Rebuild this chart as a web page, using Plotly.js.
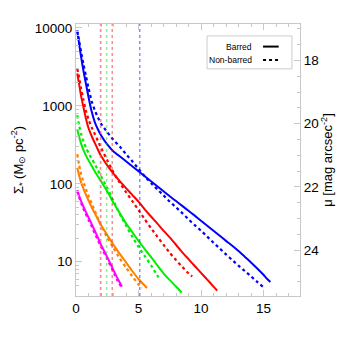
<!DOCTYPE html>
<html>
<head>
<meta charset="utf-8">
<script src="https://cdn.plot.ly/plotly-3.0.1.min.js"></script>
<style>html,body{margin:0;padding:0;background:#fff}#chart{width:346px;height:346px}</style>
</head>
<body>
<div id="chart"></div>
<script>
// Radius (kpc) and stellar surface density (Msun/pc^2) for each mass bin
var blueBarR   = [0.1,0.25,0.4,0.6,0.8,1.0,1.25,1.5,1.75,2.0,2.5,3.0,3.5,4.0,4.5,5.0,5.5,6.0,6.5,7.0,7.5,8.0,8.5,9.0,9.5,10.0,10.5,11.0,11.5,12.0,12.5,13.0,13.5,14.0,14.5,15.0,15.3,15.55];
var blueBarS   = [9100,6300,4300,2800,1900,1300,850,620,500,420,320,260,225,195,168,145,125,108,93,80,69,60,52,45,39,33.5,29,25,21.5,18.5,16,13.7,11.6,9.8,8.2,6.8,6.0,5.5];
var blueNonR   = [0.1,0.25,0.4,0.6,0.8,1.0,1.25,1.5,1.75,2.0,2.5,3.0,3.5,4.0,4.5,5.0,5.5,6.0,6.5,7.0,7.5,8.0,8.5,9.0,9.5,10.0,10.5,11.0,11.5,12.0,12.5,13.0,13.5,14.0,14.5,15.0];
var blueNonS   = [9300,6800,5000,3400,2400,1700,1150,880,710,590,460,365,300,240,195,155,125,102,85,71,59,50,42,35,29.5,25,21,17.5,14.8,12.4,10.5,8.9,7.6,6.5,5.5,4.7];

var redBarR    = [0.1,0.25,0.4,0.6,0.8,1.0,1.25,1.5,1.75,2.0,2.5,3.0,3.5,4.0,4.5,5.0,5.5,6.0,6.5,7.0,7.5,8.0,8.5,9.0,9.5,10.0,10.5,11.0,11.3];
var redBarS    = [2600,1900,1350,950,680,520,410,335,275,228,172,135,108,88,72,59,47,38,31,25,20.5,16.5,13.2,10.8,8.8,7.2,5.9,4.8,4.25];
var redNonR    = [0.1,0.25,0.4,0.6,0.8,1.0,1.25,1.5,1.75,2.0,2.5,3.0,3.5,4.0,4.5,5.0,5.5,6.0,6.5,7.0,7.5,8.0,8.5,9.0,9.3];
var redNonS    = [3000,2300,1700,1180,860,670,530,435,355,290,200,140,103,78,60,46,35,27,21,16.5,13,10.5,8.6,7.1,6.5];

var greenBarR  = [0.1,0.25,0.4,0.6,0.8,1.0,1.25,1.5,1.75,2.0,2.5,3.0,3.5,4.0,4.5,5.0,5.5,6.0,6.5,7.0,7.5,8.0,8.45];
var greenBarS  = [500,400,330,270,230,200,170,145,125,108,80,57,42,31,24,18.5,14.5,11.5,9.0,7.1,5.8,4.8,4.0];
var greenNonR  = [0.1,0.25,0.4,0.6,0.8,1.0,1.25,1.5,1.75,2.0,2.5,3.0,3.5,4.0,4.5,5.0,5.5,6.0,6.6];
var greenNonS  = [760,560,440,350,290,250,210,180,150,125,88,60,41,29,21,15.5,11.8,9.0,6.3];

var orangeBarR = [0.1,0.25,0.4,0.6,0.8,1.0,1.25,1.5,1.75,2.0,2.5,3.0,3.5,4.0,4.5,5.0,5.68];
var orangeBarS = [160,128,105,86,72,61,50,42,35,29.5,22,16.5,12.6,9.8,7.6,6.0,4.6];
var orangeNonR = [0.1,0.25,0.4,0.6,0.8,1.0,1.25,1.5,1.75,2.0,2.5,3.0,3.5,4.0,4.5,5.0,5.25];
var orangeNonS = [240,175,135,105,85,70,56,45,36,29,20.5,15,11,8.4,6.5,5.1,4.6];

var magBarR    = [0.1,0.25,0.5,0.75,1.0,1.25,1.5,1.75,2.0,2.35,2.75,3.0,3.3,3.68];
var magBarS    = [83,70,55,45,37,30.5,25,20.5,16.5,12.8,9.5,7.8,6.2,4.8];
var magNonR    = [0.1,0.25,0.5,0.75,1.0,1.25,1.5,1.75,2.0,2.5,3.0,3.3,3.6];
var magNonS    = [80,67,52,42,34.5,28.5,23,19,15.5,10.8,7.4,5.8,4.8];

// Bar lengths (kpc) per mass bin
var barLen      = [1.96, 1.99, 2.45, 2.9, 5.1];
var barLenColor = ['rgba(255,0,255,0.45)','rgba(255,128,0,0.45)','rgba(0,220,0,0.45)','rgba(255,0,0,0.45)','rgba(0,0,255,0.45)'];

var xTickVals = [0,5,10,15];
var yTickVals = [10,100,1000,10000];
var yMinorVals = [5,6,7,8,9,20,30,40,50,60,70,80,90,200,300,400,500,600,700,800,900,2000,3000,4000,5000,6000,7000,8000,9000];
var muTickVals = [18,20,22,24];

var series = [
  [blueBarR, blueBarS, blueNonR, blueNonS, '#0000ff'],
  [redBarR, redBarS, redNonR, redNonS, '#ff0000'],
  [greenBarR, greenBarS, greenNonR, greenNonS, '#00ee00'],
  [orangeBarR, orangeBarS, orangeNonR, orangeNonS, '#ff8000'],
  [magBarR, magBarS, magNonR, magNonS, '#ff00ff']
];

var traces = [];
series.forEach(function(s){
  traces.push({x:s[0], y:s[1], type:'scatter', mode:'lines', line:{color:s[4], width:2, shape:'spline', smoothing:0.5}, showlegend:false, hoverinfo:'skip'});
  traces.push({x:s[2], y:s[3], type:'scatter', mode:'lines', line:{color:s[4], width:2.2, dash:'dot', shape:'spline', smoothing:0.5}, showlegend:false, hoverinfo:'skip'});
});
traces.push({x:[], y:[], type:'scatter', yaxis:'y2', showlegend:false});

var shapes = barLen.map(function(v,i){
  return {type:'line', xref:'x', yref:'paper', x0:v, x1:v, y0:0, y1:1, line:{color:barLenColor[i], width:1.5, dash:'dot'}};
});
// legend box and samples
shapes.push({type:'rect', xref:'paper', yref:'paper', x0:0.585, x1:0.964, y0:0.835, y1:0.956, line:{color:'#cccccc', width:1}, fillcolor:'rgba(0,0,0,0)'});
shapes.push({type:'line', xref:'paper', yref:'paper', x0:0.835, x1:0.905, y0:0.917, y1:0.917, line:{color:'#000', width:2}});
shapes.push({type:'line', xref:'paper', yref:'paper', x0:0.835, x1:0.905, y0:0.868, y1:0.868, line:{color:'#000', width:2, dash:'dot'}});

var axisCol = '#c8c8c8';
var font = {family:'"Liberation Sans", Arial, sans-serif', size:13.5, color:'#000'};

var layout = {
  width:346, height:346,
  margin:{l:76, r:46, t:24, b:50},
  paper_bgcolor:'#fff', plot_bgcolor:'#fff',
  font:font,
  showlegend:false,
  xaxis:{range:[0,17.92], tickvals:xTickVals, ticks:'inside', ticklen:6, tickcolor:axisCol, showline:true, linecolor:axisCol, linewidth:1, mirror:'ticks', showgrid:false, zeroline:false,
         minor:{dtick:1, ticks:'inside', ticklen:3, tickcolor:axisCol}, tickfont:{size:13.5}},
  yaxis:{type:'log', range:[0.56,4.05], tickvals:yTickVals, ticktext:['10','100','1000','10000'], ticks:'inside', ticklen:6, tickcolor:axisCol, showline:true, linecolor:axisCol, linewidth:1, showgrid:false, zeroline:false,
         minor:{tickvals:yMinorVals, ticks:'inside', ticklen:3, tickcolor:axisCol},
         title:{text:'Σ<sub>*</sub> (M<sub>⊙</sub> pc<sup>-2</sup>)', font:{size:13}, standoff:8}},
  yaxis2:{overlaying:'y', side:'right', range:[25.45,16.85], tickvals:muTickVals, ticks:'inside', ticklen:6, tickcolor:axisCol, showline:true, linecolor:axisCol, linewidth:1, showgrid:false, zeroline:false,
          minor:{dtick:0.5, ticks:'inside', ticklen:3, tickcolor:axisCol},
          title:{text:'μ [mag arcsec<sup>-2</sup>]', font:{size:13}, standoff:4}},
  shapes:shapes,
  annotations:[
    {xref:'paper', yref:'paper', x:0.795, y:0.917, xanchor:'right', yanchor:'middle', text:'Barred', showarrow:false, font:{size:8.5, color:'#000'}},
    {xref:'paper', yref:'paper', x:0.795, y:0.868, xanchor:'right', yanchor:'middle', text:'Non-barred', showarrow:false, font:{size:8.5, color:'#000'}}
  ]
};

Plotly.newPlot('chart', traces, layout, {staticPlot:true, displayModeBar:false});
</script>
</body>
</html>
